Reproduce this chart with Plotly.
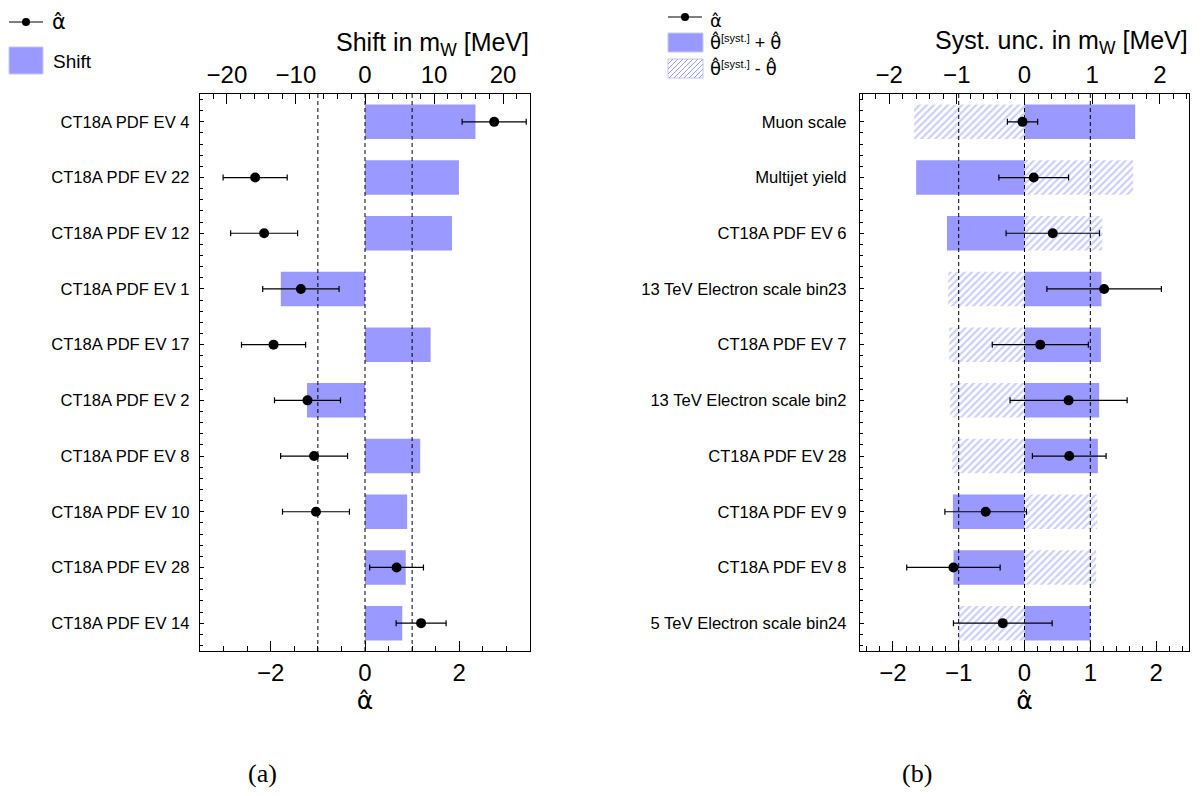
import plotly.graph_objects as go

# page body has an 8px margin: figure is placed at (8, 8) in the 1201x796 window
OFF = 8
W, H = 1201 - OFF, 796 - OFF

# ---------------- data: panel (a) ----------------
labels_a = ["CT18A PDF EV 4", "CT18A PDF EV 22", "CT18A PDF EV 12", "CT18A PDF EV 1",
            "CT18A PDF EV 17", "CT18A PDF EV 2", "CT18A PDF EV 8", "CT18A PDF EV 10",
            "CT18A PDF EV 28", "CT18A PDF EV 14"]
shift_mev_a = [16.0, 13.6, 12.6, -12.2, 9.5, -8.4, 8.0, 6.1, 5.9, 5.4]
alpha_a = [2.74, -2.33, -2.14, -1.36, -1.94, -1.22, -1.08, -1.04, 0.67, 1.19]
alpha_err_a = [0.68, 0.68, 0.71, 0.81, 0.68, 0.70, 0.71, 0.71, 0.57, 0.53]

# ---------------- data: panel (b) ----------------
labels_b = ["Muon scale", "Multijet yield", "CT18A PDF EV 6", "13 TeV Electron scale bin23",
            "CT18A PDF EV 7", "13 TeV Electron scale bin2", "CT18A PDF EV 28",
            "CT18A PDF EV 9", "CT18A PDF EV 8", "5 TeV Electron scale bin24"]
plus_b = [1.635, -1.60, -1.146, 1.137, 1.128, 1.103, 1.084, -1.058, -1.049, 0.975]
minus_b = [-1.63, 1.605, 1.148, -1.127, -1.112, -1.097, -1.068, 1.074, 1.059, -0.975]
alpha_b = [-0.03, 0.14, 0.43, 1.21, 0.24, 0.67, 0.68, -0.59, -1.08, -0.33]
alpha_err_b = [0.23, 0.53, 0.71, 0.87, 0.73, 0.89, 0.56, 0.62, 0.71, 0.75]

ref_lines = [-1, 0, 1]
alpha_range_a = [-3.5, 3.5]
mev_range_a = [-23.9, 23.9]
alpha_range_b = [-2.5, 2.5]
mev_range_b = [-2.43, 2.43]

# ---------------- style ----------------
BLUE = "#9999ff"
SANS = "Liberation Sans, Arial, sans-serif"
HATFONT = "DejaVu Sans, Liberation Sans, sans-serif"
BAR_W = 0.62

n_a = len(labels_a)
n_b = len(labels_b)
ypos_a = [n_a - 0.5 - i for i in range(n_a)]
ypos_b = [n_b - 0.5 - i for i in range(n_b)]


def px(x, y):
    """window pixel -> paper coordinates"""
    return (x - OFF) / W, 1 - (y - OFF) / H


fig = go.Figure()

# panel (a) bars (MeV axis)
fig.add_trace(go.Bar(orientation="h", x=shift_mev_a, y=ypos_a, width=BAR_W,
                     marker=dict(color=BLUE, line=dict(width=0)),
                     xaxis="x", yaxis="y", showlegend=False))
# panel (b) bars (MeV axis)
fig.add_trace(go.Bar(orientation="h", x=minus_b, y=ypos_b, width=BAR_W,
                     marker=dict(color="white", line=dict(width=0),
                                 pattern=dict(shape="/", fgcolor=BLUE, bgcolor="white",
                                              size=5, solidity=0.42, fillmode="overlay")),
                     xaxis="x2", yaxis="y2", showlegend=False))
fig.add_trace(go.Bar(orientation="h", x=plus_b, y=ypos_b, width=BAR_W,
                     marker=dict(color=BLUE, line=dict(width=0)),
                     xaxis="x2", yaxis="y2", showlegend=False))

# dashed reference lines (alpha axes)
for v in ref_lines:
    fig.add_trace(go.Scatter(x=[v, v], y=[0, n_a], mode="lines",
                             line=dict(color="black", width=1, dash="4px,3px"),
                             xaxis="x3", yaxis="y", showlegend=False, hoverinfo="skip"))
    fig.add_trace(go.Scatter(x=[v, v], y=[0, n_b], mode="lines",
                             line=dict(color="black", width=1, dash="4px,3px"),
                             xaxis="x4", yaxis="y2", showlegend=False, hoverinfo="skip"))

# points with error bars
fig.add_trace(go.Scatter(x=alpha_a, y=ypos_a, mode="markers",
                         marker=dict(color="black", size=10),
                         error_x=dict(type="data", array=alpha_err_a, color="black",
                                      thickness=1.2, width=3),
                         xaxis="x3", yaxis="y", showlegend=False))
fig.add_trace(go.Scatter(x=alpha_b, y=ypos_b, mode="markers",
                         marker=dict(color="black", size=10),
                         error_x=dict(type="data", array=alpha_err_b, color="black",
                                      thickness=1.2, width=3),
                         xaxis="x4", yaxis="y2", showlegend=False))

# ---------------- axes ----------------
y_dom = [px(0, 651)[1], px(0, 94)[1]]
dom_a = [px(200, 0)[0], px(530, 0)[0]]
dom_b = [px(860, 0)[0], px(1189, 0)[0]]
TICKFONT = dict(family=SANS, size=24, color="black")


def top_axis(dom, rng, dtick, mdtick, anchor):
    return dict(domain=dom, range=rng, anchor=anchor, side="top", dtick=dtick,
                ticks="inside", ticklen=10, tickwidth=1, tickcolor="black",
                minor=dict(dtick=mdtick, ticks="inside", ticklen=5, tickcolor="black"),
                showline=True, linecolor="black", linewidth=1.2,
                showgrid=False, zeroline=False, tickfont=TICKFONT, fixedrange=True)


def bottom_axis(over, rng, dtick, mdtick, anchor):
    return dict(overlaying=over, range=rng, anchor=anchor, side="bottom", dtick=dtick,
                ticks="inside", ticklen=10, tickwidth=1, tickcolor="black",
                minor=dict(dtick=mdtick, ticks="inside", ticklen=5, tickcolor="black"),
                showline=True, linecolor="black", linewidth=1.2,
                showgrid=False, zeroline=False, tickfont=TICKFONT,
                title=dict(text="\u03b1\u0302", font=dict(family=HATFONT, size=25, color="black"),
                           standoff=4))


def y_axis(anchor, ypos, labels, n, standoff):
    return dict(domain=y_dom, range=[0, n], anchor=anchor, tickvals=ypos, ticktext=labels,
                ticks="inside", ticklen=4, tickcolor="black",
                minor=dict(tick0=0.1, dtick=0.2, ticks="inside", ticklen=3, tickcolor="black"),
                showline=True, mirror=True, linecolor="black", linewidth=1.2,
                showgrid=False, zeroline=False, ticklabelstandoff=standoff,
                tickfont=dict(family=SANS, size=16.6, color="black"))


fig.update_layout(
    width=W, height=H, margin=dict(l=0, r=0, t=0, b=0),
    paper_bgcolor="white", plot_bgcolor="white", barmode="overlay",
    showlegend=False,
    xaxis=top_axis(dom_a, mev_range_a, 10, 2, "y"),
    xaxis2=top_axis(dom_b, mev_range_b, 1, 0.2, "y2"),
    xaxis3=bottom_axis("x", alpha_range_a, 2, 0.5, "y"),
    xaxis4=bottom_axis("x2", alpha_range_b, 1, 0.2, "y2"),
    yaxis=y_axis("x", ypos_a, labels_a, n_a, 6),
    yaxis2=y_axis("x2", ypos_b, labels_b, n_b, 9),
)

# ---------------- titles / captions ----------------
ann = []
tx, ty = px(531, 44)
ann.append(dict(text="Shift in m<sub>W</sub> [MeV]", x=tx, y=ty, xref="paper", yref="paper",
                xanchor="right", yanchor="middle", showarrow=False,
                font=dict(family=SANS, size=25, color="black")))
tx, ty = px(1190, 42)
ann.append(dict(text="Syst. unc. in m<sub>W</sub> [MeV]", x=tx, y=ty, xref="paper", yref="paper",
                xanchor="right", yanchor="middle", showarrow=False,
                font=dict(family=SANS, size=25, color="black")))
for cap, cx in (("(a)", 262), ("(b)", 917)):
    tx, ty = px(cx, 773)
    ann.append(dict(text=cap, x=tx, y=ty, xref="paper", yref="paper", xanchor="center",
                    yanchor="middle", showarrow=False,
                    font=dict(family="Liberation Serif, serif", size=26, color="black")))

# ---------------- legends (drawn glyphs) ----------------
shapes = []


def line_glyph(x0, x1, y):
    a0, b0 = px(x0, y)
    a1, _ = px(x1, y)
    shapes.append(dict(type="line", xref="paper", yref="paper", x0=a0, x1=a1, y0=b0, y1=b0,
                       line=dict(color="black", width=1.2)))
    cx = (x0 + x1) / 2
    r = 4
    c0 = px(cx - r, y + r)
    c1 = px(cx + r, y - r)
    shapes.append(dict(type="circle", xref="paper", yref="paper", x0=c0[0], y0=c0[1],
                       x1=c1[0], y1=c1[1], fillcolor="black", line=dict(color="black", width=0)))


def box_glyph(x0, x1, y0, y1, hatched=False):
    p0 = px(x0, y1)
    p1 = px(x1, y0)
    if not hatched:
        shapes.append(dict(type="rect", xref="paper", yref="paper", x0=p0[0], y0=p0[1],
                           x1=p1[0], y1=p1[1], fillcolor=BLUE, line=dict(color="#c6c6ff", width=1)))
        return
    shapes.append(dict(type="rect", xref="paper", yref="paper", x0=p0[0], y0=p0[1],
                       x1=p1[0], y1=p1[1], fillcolor="white", line=dict(color="#c6c6ff", width=1)))
    h = y1 - y0
    path = ""
    s = x0 - h
    while s < x1:
        t0 = max(0, x0 - s)
        t1 = min(h, x1 - s)
        if t1 > t0:
            a = px(s + t0, y1 - t0)
            b = px(s + t1, y1 - t1)
            path += f"M{a[0]:.5f},{a[1]:.5f} L{b[0]:.5f},{b[1]:.5f} "
        s += 5
    shapes.append(dict(type="path", xref="paper", yref="paper", path=path,
                       line=dict(color=BLUE, width=1)))


def leg_text(text, x, y, size, family=HATFONT):
    tx, ty = px(x, y)
    ann.append(dict(text=text, x=tx, y=ty, xref="paper", yref="paper", xanchor="left",
                    yanchor="middle", showarrow=False,
                    font=dict(family=family, size=size, color="black")))


SYST = '<sup><span style="font-family:Liberation Sans;font-size:11px">[syst.]</span></sup>'

# left legend
line_glyph(9, 43, 22)
leg_text("\u03b1\u0302", 50, 22, 21)
box_glyph(9, 43, 47, 74)
leg_text("Shift", 51, 61, 19, SANS)

# right legend
line_glyph(668, 702, 17)
leg_text("\u03b1\u0302", 708, 21, 18)
box_glyph(668, 703, 33, 52)
leg_text("\u03b8\u0302" + SYST + '<span style="font-family:Liberation Sans"> + </span>\u03b8\u0302',
         708, 42, 18)
box_glyph(668, 703, 59, 78, hatched=True)
leg_text("\u03b8\u0302" + SYST + '<span style="font-family:Liberation Sans"> - </span>\u03b8\u0302',
         708, 68, 18)

fig.update_layout(annotations=ann, shapes=shapes)

fig.write_html("out.html")
